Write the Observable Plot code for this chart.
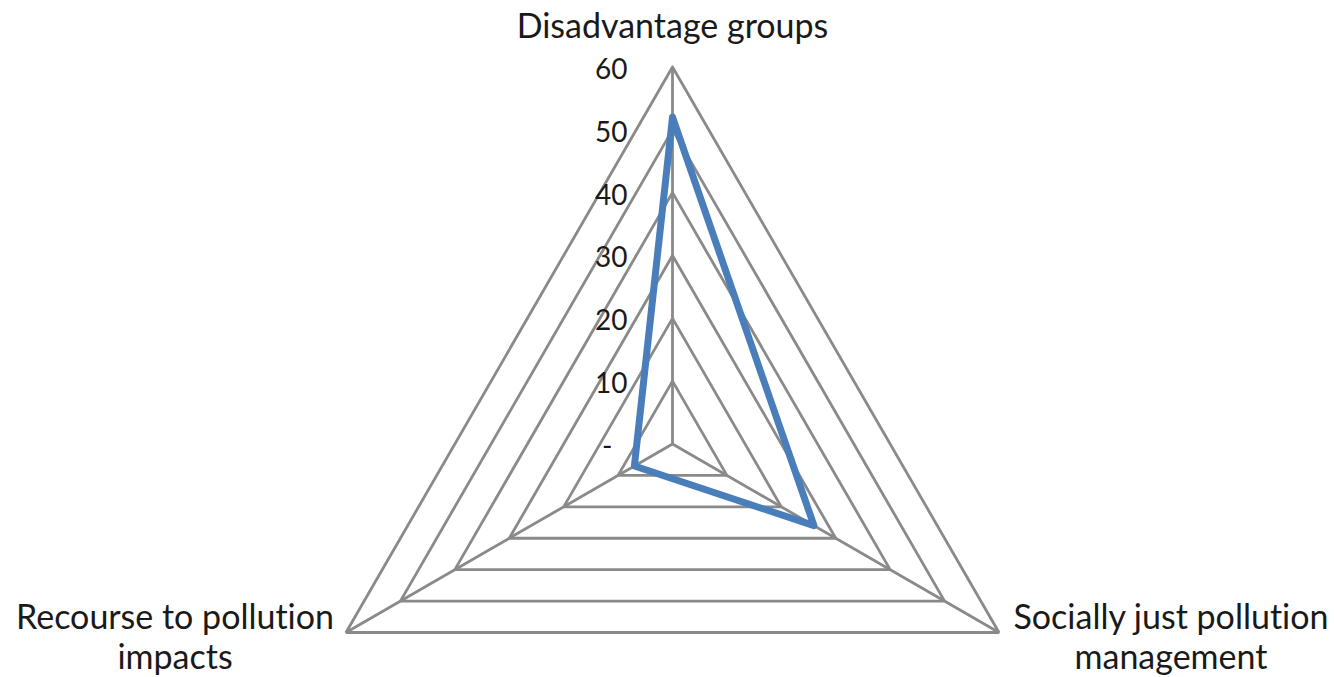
<!DOCTYPE html>
<html>
<head>
<meta charset="utf-8">
<script src="https://cdn.jsdelivr.net/npm/d3@7"></script>
<script src="https://cdn.jsdelivr.net/npm/@observablehq/plot@0.6"></script>
<style>
  html, body { margin: 0; padding: 0; background: #fff; }
  #chart svg { display: block; }
  #chart text { font-variant-ligatures: none; font-feature-settings: "liga" 0; }
</style>
</head>
<body>
<div id="chart"></div>
<script>
// ---- data ----
const categories = ["Disadvantage groups", "Socially just pollution management", "Recourse to pollution impacts"];
const categoryLabels = ["Disadvantage groups", "Socially just pollution\nmanagement", "Recourse to pollution\nimpacts"];
const values = [52, 26, 7];
const tickValues = [0, 10, 20, 30, 40, 50, 60];
const tickLabels = ["-", "10", "20", "30", "40", "50", "60"];

// ---- layout ----
const W = 1334, H = 677;
const cx = 672, cy = 443.5, R = 377;
const maxV = d3.max(tickValues);
const k = R / maxV; // px per unit
const font = "Lato, 'Open Sans', sans-serif";

const angle = i => (Math.PI / 2) - i * (2 * Math.PI / categories.length);
const px = (v, i) => v * Math.cos(angle(i));
const py = (v, i) => v * Math.sin(angle(i));

// grid polygons
const grid = [];
tickValues.filter(t => t > 0).forEach(t => {
  for (let j = 0; j <= categories.length; j++) {
    const i = j % categories.length;
    grid.push({level: t, x: px(t, i), y: py(t, i)});
  }
});
// spokes
const spokes = categories.map((c, i) => ({x1: 0, y1: 0, x2: px(maxV, i), y2: py(maxV, i)}));
// series
const series = [];
for (let j = 0; j <= categories.length; j++) {
  const i = j % categories.length;
  series.push({cat: categories[i], x: px(values[i], i), y: py(values[i], i)});
}
// ticks labels on the top axis
const tickData = tickValues.map((t, i) => ({x: px(t, 0), y: py(t, 0), label: tickLabels[i], v: t}));
// category labels at outer vertex
const catData = categoryLabels.map((l, i) => ({x: px(maxV, i), y: py(maxV, i), label: l, i}));

const gridColor = "#8a8a8a";
const textColor = "#1a1a1a";

const chart = Plot.plot({
  width: W,
  height: H,
  margin: 0,
  x: {domain: [-cx / k, (W - cx) / k], axis: null},
  y: {domain: [-(H - cy) / k, cy / k], axis: null},
  style: {fontFamily: font, background: "#fff"},
  marks: [
    Plot.line(grid, {x: "x", y: "y", z: "level", stroke: gridColor, strokeWidth: 2.8, strokeLinejoin: "miter"}),
    Plot.link(spokes, {x1: "x1", y1: "y1", x2: "x2", y2: "y2", stroke: gridColor, strokeWidth: 2.8}),
    Plot.line(series, {x: "x", y: "y", stroke: "#4a7ebb", strokeWidth: 7, strokeLinejoin: "round", strokeLinecap: "round"}),
    Plot.text(tickData.filter(d => d.v > 0), {x: "x", y: "y", text: "label", textAnchor: "end", dx: -45, dy: 3, fontSize: 28, fill: textColor}),
    Plot.text(tickData.filter(d => d.v === 0), {x: "x", y: "y", text: "label", textAnchor: "end", dx: -60, dy: 3, fontSize: 28, fill: textColor}),
    Plot.text(catData.filter(d => d.i === 0), {x: "x", y: "y", text: "label", textAnchor: "middle", dy: -39.5, fontSize: 34, fill: textColor}),
    Plot.text(catData.filter(d => d.i === 1), {x: "x", y: "y", text: "label", textAnchor: "middle", lineHeight: 1.18, dx: 172, dy: 4, fontSize: 34, fill: textColor}),
    Plot.text(catData.filter(d => d.i === 2), {x: "x", y: "y", text: "label", textAnchor: "middle", lineHeight: 1.18, dx: -171, dy: 4, fontSize: 34, fill: textColor})
  ]
});
document.getElementById("chart").appendChild(chart);
</script>
</body>
</html>
